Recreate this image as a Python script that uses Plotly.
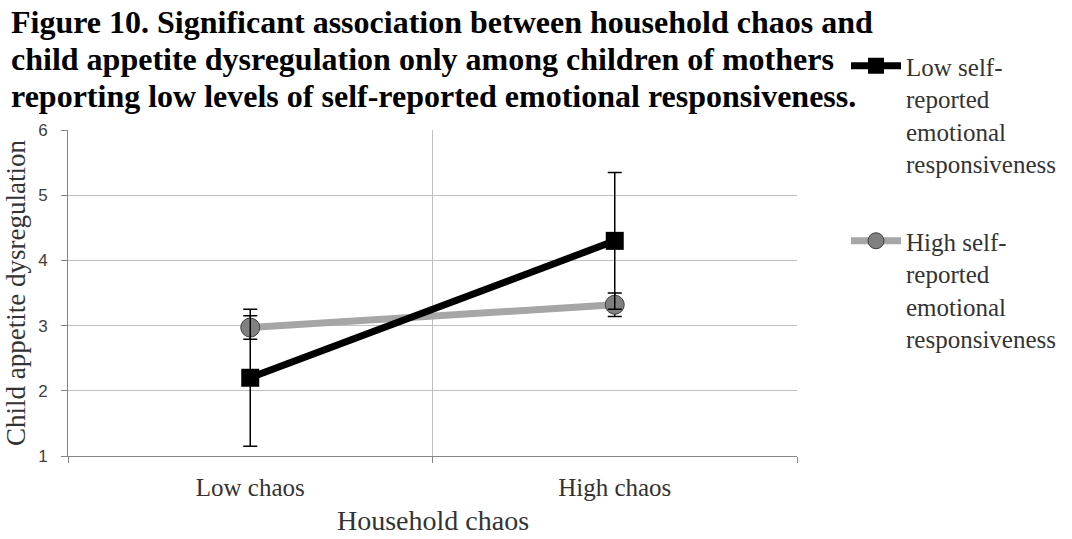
import plotly.graph_objects as go

# Household chaos categories
categories = ["Low chaos", "High chaos"]

# Child appetite dysregulation means and error bar half-widths
low_resp_mean = [2.2, 4.3]
low_resp_err = [1.05, 1.05]
high_resp_mean = [2.97, 3.32]
high_resp_err = [0.18, 0.18]

low_resp_name = "Low self-<br>reported<br>emotional<br>responsiveness"
high_resp_name = "High self-<br>reported<br>emotional<br>responsiveness"

title_lines = [
    "Figure 10. Significant association between household chaos and",
    "child appetite dysregulation only among children of mothers",
    "reporting low levels of self-reported emotional responsiveness.",
]
x_title = "Household chaos"
y_title = "Child appetite dysregulation"

serif = "Liberation Serif, Times New Roman, serif"
grid_col = "#bfbfbf"
axis_col = "#868686"
text_col = "#404040"
label_col = "#333333"

# plot area geometry (px) used to place paper-referenced text
M_L, M_R, M_T, M_B = 68, 275, 130, 83
W, H = 1072, 539
PW, PH = W - M_L - M_R, H - M_T - M_B


def px_to_paper_x(px):
    return (px - M_L) / PW


def px_to_paper_y(py):
    return (H - M_B - py) / PH


fig = go.Figure()

fig.add_trace(go.Scatter(
    x=categories, y=high_resp_mean, name=high_resp_name,
    legendgroup="high", legendrank=2,
    mode="lines+markers",
    line=dict(color="#a6a6a6", width=7),
    marker=dict(symbol="circle", size=19, color="#808080",
                line=dict(color="#404040", width=1)),
    error_y=dict(type="data", array=high_resp_err, visible=True,
                 color="black", thickness=1.5, width=7),
))

fig.add_trace(go.Scatter(
    x=categories, y=low_resp_mean, name=low_resp_name,
    legendgroup="low", legendrank=1,
    mode="lines+markers",
    line=dict(color="black", width=7),
    marker=dict(symbol="square", size=18, color="black"),
    error_y=dict(type="data", array=low_resp_err, visible=True,
                 color="black", thickness=1.5, width=7),
))

annotations = [
    dict(text=f"<b>{line}</b>", xref="paper", yref="paper",
         x=px_to_paper_x(9), y=px_to_paper_y(yc),
         xanchor="left", yanchor="middle", align="left", showarrow=False,
         font=dict(family=serif, size=32, color="black"))
    for line, yc in zip(title_lines, [22, 59, 96])
]
# x-axis title, placed below the category labels
annotations.append(dict(
    text=x_title, xref="paper", yref="paper",
    x=0.5, y=px_to_paper_y(538), xanchor="center", yanchor="bottom",
    showarrow=False, font=dict(family=serif, size=28, color=label_col),
))

fig.update_layout(
    width=W, height=H,
    margin=dict(l=M_L, r=M_R, t=M_T, b=M_B, autoexpand=False),
    paper_bgcolor="white", plot_bgcolor="white",
    showlegend=True,
    legend=dict(
        x=px_to_paper_x(846), y=px_to_paper_y(43),
        xanchor="left", yanchor="top",
        font=dict(family=serif, size=25, color=label_col),
        valign="top", tracegroupgap=42,
        traceorder="grouped",
        itemwidth=50, maxheight=500,
        bgcolor="rgba(0,0,0,0)",
    ),
    annotations=annotations,
)

fig.update_xaxes(
    type="category", categoryorder="array", categoryarray=categories,
    range=[-0.5, 1.5], automargin=False,
    tickson="boundaries", showgrid=True, gridcolor=grid_col, gridwidth=1,
    ticks="outside", ticklen=6, tickcolor=axis_col,
    ticklabelstandoff=9,
    showline=True, linecolor=axis_col, linewidth=1,
    tickfont=dict(family=serif, size=25, color=label_col),
    zeroline=False,
)

fig.update_yaxes(
    range=[1, 6], dtick=1, tick0=0, automargin=False,
    showgrid=True, gridcolor=grid_col, gridwidth=1,
    ticks="outside", ticklen=6, tickcolor=axis_col,
    ticklabelstandoff=10,
    showline=True, linecolor=axis_col, linewidth=1,
    tickfont=dict(family="Liberation Sans, Arial, sans-serif", size=17, color=text_col),
    title=dict(text=y_title, standoff=4,
               font=dict(family=serif, size=27, color=label_col)),
    zeroline=False,
)

fig.write_html("out.html")
